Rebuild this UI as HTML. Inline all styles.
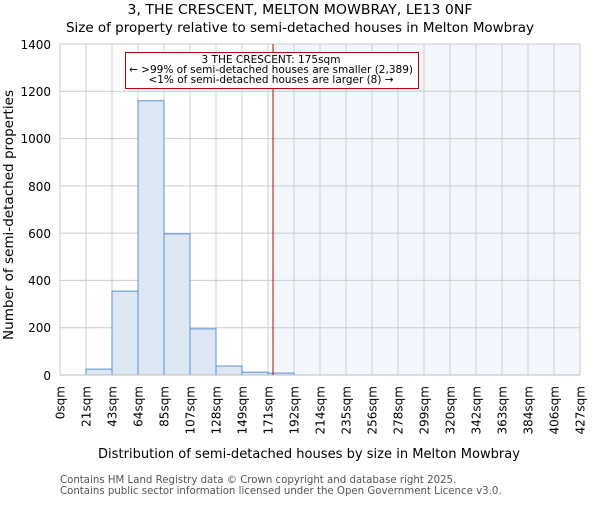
<!DOCTYPE html><html><head><style>body{margin:0;background:#fff}</style></head><body>
<svg width="600" height="500" xmlns="http://www.w3.org/2000/svg" font-family="DejaVu Sans, sans-serif">
<rect width="600" height="500" fill="#fff"/>
<text x="300" y="14" font-size="13" text-anchor="middle" textLength="345" lengthAdjust="spacingAndGlyphs">3, THE CRESCENT, MELTON MOWBRAY, LE13 0NF</text>
<text x="300" y="32" font-size="13" text-anchor="middle" textLength="468" lengthAdjust="spacingAndGlyphs">Size of property relative to semi-detached houses in Melton Mowbray</text>
<rect x="273" y="44" width="307" height="331" fill="#eef3fc" opacity="0.7"/>
<g stroke="#cccccc" stroke-width="1">
<line x1="60" y1="44" x2="580" y2="44"/><line x1="60" y1="91.3" x2="580" y2="91.3"/><line x1="60" y1="138.6" x2="580" y2="138.6"/><line x1="60" y1="185.9" x2="580" y2="185.9"/><line x1="60" y1="233.1" x2="580" y2="233.1"/><line x1="60" y1="280.4" x2="580" y2="280.4"/><line x1="60" y1="327.7" x2="580" y2="327.7"/>
<line x1="60" y1="44" x2="60" y2="375"/><line x1="86" y1="44" x2="86" y2="375"/><line x1="112" y1="44" x2="112" y2="375"/><line x1="138" y1="44" x2="138" y2="375"/><line x1="164" y1="44" x2="164" y2="375"/><line x1="190" y1="44" x2="190" y2="375"/><line x1="216" y1="44" x2="216" y2="375"/><line x1="242" y1="44" x2="242" y2="375"/><line x1="268" y1="44" x2="268" y2="375"/><line x1="294" y1="44" x2="294" y2="375"/><line x1="320" y1="44" x2="320" y2="375"/><line x1="346" y1="44" x2="346" y2="375"/><line x1="372" y1="44" x2="372" y2="375"/><line x1="398" y1="44" x2="398" y2="375"/><line x1="424" y1="44" x2="424" y2="375"/><line x1="450" y1="44" x2="450" y2="375"/><line x1="476" y1="44" x2="476" y2="375"/><line x1="502" y1="44" x2="502" y2="375"/><line x1="528" y1="44" x2="528" y2="375"/><line x1="554" y1="44" x2="554" y2="375"/><line x1="580" y1="44" x2="580" y2="375"/>
</g>
<g fill="#dde7f4" stroke="#5b8fd6" stroke-width="1">
<rect x="86" y="369.1" width="26" height="5.9"/>
<rect x="112" y="291.1" width="26" height="83.9"/>
<rect x="138" y="100.8" width="26" height="274.2"/>
<rect x="164" y="233.9" width="26" height="141.1"/>
<rect x="190" y="328.9" width="26" height="46.1"/>
<rect x="216" y="366" width="26" height="9"/>
<rect x="242" y="372.2" width="26" height="2.8"/>
<rect x="268" y="373.1" width="26" height="1.9"/>
</g>
<line x1="60" y1="375" x2="580" y2="375" stroke="#bbb"/>
<line x1="273" y1="44" x2="273" y2="375" stroke="#c00000" stroke-width="1"/>
<rect x="125.5" y="52.5" width="293" height="36" fill="#fff" stroke="#c00000"/>
<g font-size="10.5" text-anchor="middle"><text x="271" y="63" textLength="139" lengthAdjust="spacingAndGlyphs">3 THE CRESCENT: 175sqm</text><text x="271" y="73" textLength="284" lengthAdjust="spacingAndGlyphs">← &gt;99% of semi-detached houses are smaller (2,389)</text><text x="271" y="83" textLength="245" lengthAdjust="spacingAndGlyphs">&lt;1% of semi-detached houses are larger (8) →</text></g>
<g font-size="12" text-anchor="end"><text x="51" y="49">1400</text><text x="51" y="96">1200</text><text x="51" y="143">1000</text><text x="51" y="191">800</text><text x="51" y="238">600</text><text x="51" y="285">400</text><text x="51" y="332">200</text><text x="51" y="380">0</text></g>
<text transform="translate(13,215) rotate(-90)" font-size="13" text-anchor="middle" textLength="250" lengthAdjust="spacingAndGlyphs">Number of semi-detached properties</text>
<g font-size="12" text-anchor="end">
<text transform="translate(64.5,386) rotate(-90)">0sqm</text><text transform="translate(90.5,386) rotate(-90)">21sqm</text><text transform="translate(116.5,386) rotate(-90)">43sqm</text><text transform="translate(142.5,386) rotate(-90)">64sqm</text><text transform="translate(168.5,386) rotate(-90)">85sqm</text><text transform="translate(194.5,386) rotate(-90)">107sqm</text><text transform="translate(220.5,386) rotate(-90)">128sqm</text><text transform="translate(246.5,386) rotate(-90)">149sqm</text><text transform="translate(272.5,386) rotate(-90)">171sqm</text><text transform="translate(298.5,386) rotate(-90)">192sqm</text><text transform="translate(324.5,386) rotate(-90)">214sqm</text><text transform="translate(350.5,386) rotate(-90)">235sqm</text><text transform="translate(376.5,386) rotate(-90)">256sqm</text><text transform="translate(402.5,386) rotate(-90)">278sqm</text><text transform="translate(428.5,386) rotate(-90)">299sqm</text><text transform="translate(454.5,386) rotate(-90)">320sqm</text><text transform="translate(480.5,386) rotate(-90)">342sqm</text><text transform="translate(506.5,386) rotate(-90)">363sqm</text><text transform="translate(532.5,386) rotate(-90)">384sqm</text><text transform="translate(558.5,386) rotate(-90)">406sqm</text><text transform="translate(584.5,386) rotate(-90)">427sqm</text>
</g>
<text x="309" y="458" font-size="13" text-anchor="middle" textLength="422" lengthAdjust="spacingAndGlyphs">Distribution of semi-detached houses by size in Melton Mowbray</text>
<text x="60" y="483" font-size="10.2" fill="#555">Contains HM Land Registry data © Crown copyright and database right 2025.</text>
<text x="60" y="494" font-size="10.2" fill="#555">Contains public sector information licensed under the Open Government Licence v3.0.</text>
</svg></body></html>
